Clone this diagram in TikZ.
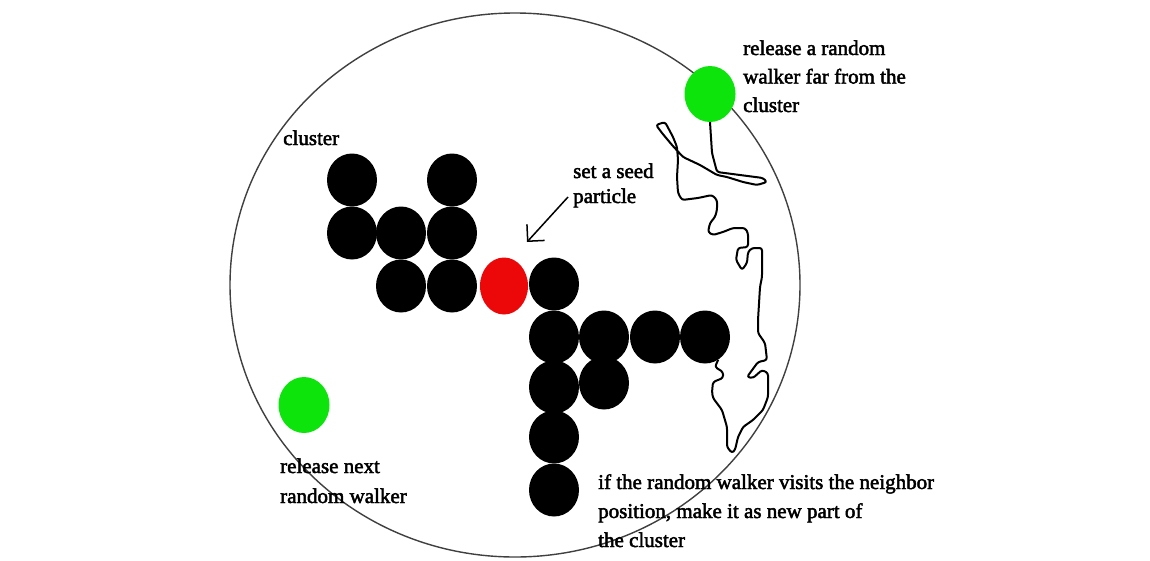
\documentclass[tikz,border=0pt]{standalone}
\usepackage{fontspec}
\usetikzlibrary{shapes.geometric,arrows.meta}
\newfontfamily\lblfont[FakeBold=2.2]{Liberation Serif}
\definecolor{wgreen}{RGB}{12,228,12}
\definecolor{sred}{RGB}{236,8,8}
\tikzset{
  particle/.style={ellipse, fill=black, minimum width=50pt, minimum height=53pt, inner sep=0pt},
  seedp/.style={particle, fill=sred, minimum width=48pt, minimum height=57pt},
  walker/.style={ellipse, fill=wgreen, minimum width=51pt, minimum height=56pt, inner sep=0pt},
  lbl/.style={font=\lblfont\fontsize{21}{29}\selectfont, align=left, inner sep=0pt, anchor=base west},
  walk/.style={line width=2pt, rounded corners=2.5pt, line join=round},
  boundary/.style={draw=black!75, line width=1.4pt},
  pointer/.style={line width=1.5pt, -{Straight Barb[length=12pt,width=24pt]}}
}
\begin{document}
\begin{tikzpicture}[x=1pt,y=-1pt]
\useasboundingbox (0,0) rectangle (1150,560);
\fill[white] (0,0) rectangle (1150,560);

% boundary circle
\draw[boundary] (515,285) ellipse [x radius=285, y radius=272];

% cluster particles
\node[particle] (a1) at (352,180) {};
\node[particle] (a2) at (352,233) {};
\node[particle] (b2) at (401,233) {};
\node[particle] (b3) at (401,286) {};
\node[particle] (c1) at (452,180) {};
\node[particle] (c2) at (452,233) {};
\node[particle] (c3) at (452,286) {};
\node[seedp]    (seed) at (504,286) {};
\node[particle] (e3) at (554,284) {};
\node[particle] (e4) at (554,337) {};
\node[particle] (f4) at (604,337) {};
\node[particle] (g4) at (655,337) {};
\node[particle] (h4) at (705,337) {};
\node[particle] (e5) at (554,387) {};
\node[particle] (f5) at (604,383) {};
\node[particle] (e6) at (554,437) {};
\node[particle] (e7) at (554,490) {};

% walkers
\node[walker] (w1) at (710,94) {};
\node[walker] (w2) at (304,405) {};

% random walk
\draw[walk] (w1.south) -- (712,153) -- (717,172) -- (740,175) -- (763,178) -- (767,182)
  -- (757,185) -- (743,182) -- (727,177) -- (717,175) -- (700,165) -- (683,157)
  -- (672,145) -- (662,133) -- (656,125) -- (665,122) -- (673,137) -- (677,147)
  -- (678,160) -- (677,177) -- (678,193) -- (682,200) -- (698,198) -- (712,195)
  -- (717,200) -- (717,210) -- (715,217) -- (710,223) -- (708,232) -- (713,235)
  -- (723,232) -- (733,228) -- (745,228) -- (748,233) -- (748,247) -- (738,248)
  -- (736,260) -- (742,270) -- (747,263) -- (748,252) -- (752,248) -- (762,248)
  -- (762,277) -- (760,287) -- (758,320) -- (758,333) -- (765,343) -- (767,360)
  -- (758,362) -- (747,377) -- (753,378) -- (762,370) -- (768,373) -- (768,397)
  -- (763,410) -- (753,420) -- (743,427) -- (738,437) -- (735,450) -- (732,453)
  -- (727,447) -- (727,427) -- (722,410) -- (713,398) -- (712,392) -- (713,382)
  -- (723,378) -- (723,372) -- (715,367) -- (h4.-60);

% labels (base anchor = baseline of last line)
\node[lbl] (lcluster) at (283,145) {cluster};
\node[lbl, font=\lblfont\fontsize{21}{25}\selectfont] (lseed) at (573,203) {set a seed\\particle};
\node[lbl, font=\lblfont\fontsize{21}{28.5}\selectfont] (lrel) at (743,112) {release a random\\walker far from the\\cluster};
\node[lbl, font=\lblfont\fontsize{21}{30}\selectfont] (lnext) at (280,503) {release next\\random walker};
\node[lbl] (lif) at (598,547) {if the random walker visits the neighbor\\position, make it as new part of\\the cluster};

% pointer to seed
\coordinate (arrS) at (568,197);
\coordinate (arrE) at (527,242);
\draw[pointer] (arrS) -- (arrE);
\end{tikzpicture}
\end{document}
